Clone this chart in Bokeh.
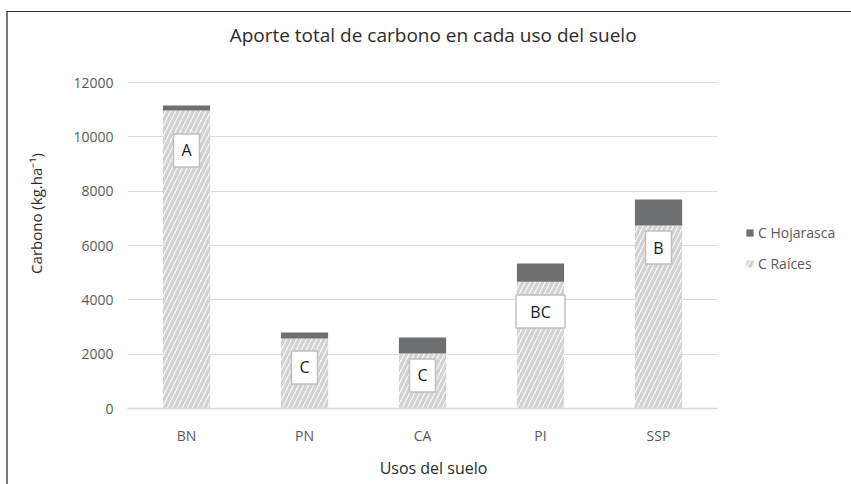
from bokeh.plotting import figure
from bokeh.layouts import row
from bokeh.models import (Range1d, Legend, LegendItem, Label,
                          ColumnDataSource, FixedTicker)
from bokeh.core.properties import value
from bokeh.embed import file_html
from bokeh.resources import INLINE

# ---- data ----
categories = ["BN", "PN", "CA", "PI", "SSP"]
c_raices = [10970, 2580, 2020, 4670, 6740]
c_hojarasca = [180, 220, 590, 670, 950]
letters = ["A", "C", "C", "BC", "B"]
letter_y = [9500, 1510, 1215, 3570, 5925]
y_ticks = [0, 2000, 4000, 6000, 8000, 10000, 12000]

title_text = "Aporte total de  carbono  en cada  uso del suelo"
x_title = "Usos del suelo"
y_title = "Carbono (kg.ha\u207b\u00b9)"
legend_labels = ["C Hojarasca", "C Ra\u00edces"]

FONT = "Open Sans"
RAICES_STYLE = dict(fill_color="white", line_color=None, hatch_pattern="/",
                    hatch_color="#d3d3d3", hatch_weight=3.5, hatch_scale=10)
HOJ_STYLE = dict(fill_color="#6e6f71", line_color=None)

# ---- layout (pixels) ----
W, H = 851, 484
MAIN_W = 739                      # main figure width, legend figure gets the rest
FRAME_L, FRAME_R, FRAME_T, FRAME_B = 127, MAIN_W, 18, 408
PX_PER_CAT = 118
Y_TOP_PX = 82                     # where the top tick sits

cat_x = [i + 1 for i in range(len(categories))]
x_start = 0.5
x_end = x_start + (FRAME_R - FRAME_L) / PX_PER_CAT
y_end = y_ticks[-1] * (FRAME_B - FRAME_T) / (FRAME_B - Y_TOP_PX)


def data_x(px):
    return x_start + (px - FRAME_L) / PX_PER_CAT


def data_y(py):
    return (FRAME_B - py) * y_end / (FRAME_B - FRAME_T)


p = figure(x_range=Range1d(x_start, x_end), y_range=Range1d(0, y_end),
           width=MAIN_W, height=H, output_backend="svg", toolbar_location=None,
           min_border_left=FRAME_L, min_border_right=MAIN_W - FRAME_R,
           min_border_top=FRAME_T, min_border_bottom=H - FRAME_B)
p.outline_line_color = None
p.background_fill_color = "white"
p.border_fill_alpha = 0
p.styles = {
    "background": ("linear-gradient(#2e2e2e, #2e2e2e) 7px 11px / 100% 1px no-repeat, "
                   "linear-gradient(#7a7a7a, #7a7a7a) 6px 11px / 2px 100% no-repeat, "
                   "white"),
}

src = ColumnDataSource(dict(
    x=cat_x,
    raices=c_raices,
    total=[r + h for r, h in zip(c_raices, c_hojarasca)],
))

p.vbar(x="x", bottom=0, top="raices", width=0.4, source=src, **RAICES_STYLE)
p.vbar(x="x", bottom="raices", top="total", width=0.4, source=src, **HOJ_STYLE)

lsrc = ColumnDataSource(dict(
    x=cat_x, y=letter_y, txt=letters,
    w=[26 if len(t) == 1 else 49 for t in letters],
))
p.rect(x="x", y="y", width="w", height=33, width_units="screen",
       height_units="screen", source=lsrc, fill_color="white",
       line_color="#bfbfbf", line_width=1.5)
p.text(x="x", y="y", text="txt", source=lsrc, text_align="center",
       text_baseline="middle", text_font=value(FONT),
       text_font_size="16px", text_color="#1a1a1a")

# ---- axes ----
p.xaxis.ticker = FixedTicker(ticks=cat_x)
p.xaxis.major_label_overrides = {x: c for x, c in zip(cat_x, categories)}
p.yaxis.ticker = FixedTicker(ticks=y_ticks)
for ax in (p.xaxis[0], p.yaxis[0]):
    ax.major_tick_line_color = None
    ax.minor_tick_line_color = None
    ax.major_tick_out = 0
    ax.major_tick_in = 0
    ax.major_label_text_font = FONT
    ax.major_label_text_font_size = "14px"
    ax.major_label_text_color = "#595959"
    ax.axis_label_text_font = FONT
    ax.axis_label_text_font_style = "normal"
    ax.axis_label_text_color = "#2b2b2b"

p.xaxis.bounds = (0.5, len(categories) + 0.5)
p.xaxis.axis_line_color = "#d9d9d9"
p.xaxis.axis_line_width = 1.5
p.xaxis.major_label_standoff = 17
p.xaxis.axis_label = x_title
p.xaxis.axis_label_text_font_size = "16px"
p.xaxis.axis_label_standoff = 9

p.yaxis.axis_line_color = None
p.yaxis.major_label_standoff = 14
p.yaxis.axis_label = y_title
p.yaxis.axis_label_text_font_size = "15px"
p.yaxis.axis_label_standoff = 24

p.xgrid.grid_line_color = None
p.ygrid.grid_line_color = "#d9d9d9"
p.ygrid.grid_line_width = 1
p.ygrid.cross_bounds = (0.5, len(categories) + 0.5)

# ---- title ----
p.add_layout(Label(x=data_x(440), y=data_y(34), text=title_text,
                   text_align="center", text_baseline="middle",
                   text_font=FONT, text_font_size="19px",
                   text_color="#2b2b2b"))

# ---- legend (own panel to the right of the plot area) ----
LEG_W = W - MAIN_W
pl = figure(width=LEG_W, height=H, output_backend="svg", toolbar_location=None,
            x_axis_type=None, y_axis_type=None, min_border=0,
            x_range=Range1d(0, 1), y_range=Range1d(0, 1))
pl.grid.visible = False
pl.outline_line_color = None
pl.background_fill_alpha = 0
pl.border_fill_alpha = 0
pl.styles = {
    "background": ("linear-gradient(#2e2e2e, #2e2e2e) 0px 11px / 100% 1px no-repeat, "
                   "white"),
}
# same series, not drawn here: only used for the legend swatches
lr_raices = pl.vbar(x="x", bottom=0, top="raices", width=0.4, source=src,
                    visible=False, **RAICES_STYLE)
lr_hoj = pl.vbar(x="x", bottom="raices", top="total", width=0.4, source=src,
                 visible=False, **HOJ_STYLE)

legend = Legend(items=[LegendItem(label=legend_labels[0], renderers=[lr_hoj]),
                       LegendItem(label=legend_labels[1], renderers=[lr_raices])],
                location=(745 - MAIN_W, FRAME_B - 273), padding=0, margin=0,
                spacing=11, glyph_width=9, glyph_height=9, label_height=20,
                label_standoff=4, label_text_font=FONT,
                label_text_font_size="14px", label_text_color="#595959",
                border_line_color=None, background_fill_alpha=0)
pl.add_layout(legend, "center")

layout = row(p, pl, spacing=0)
open("out.html", "w").write(file_html(layout, INLINE))
